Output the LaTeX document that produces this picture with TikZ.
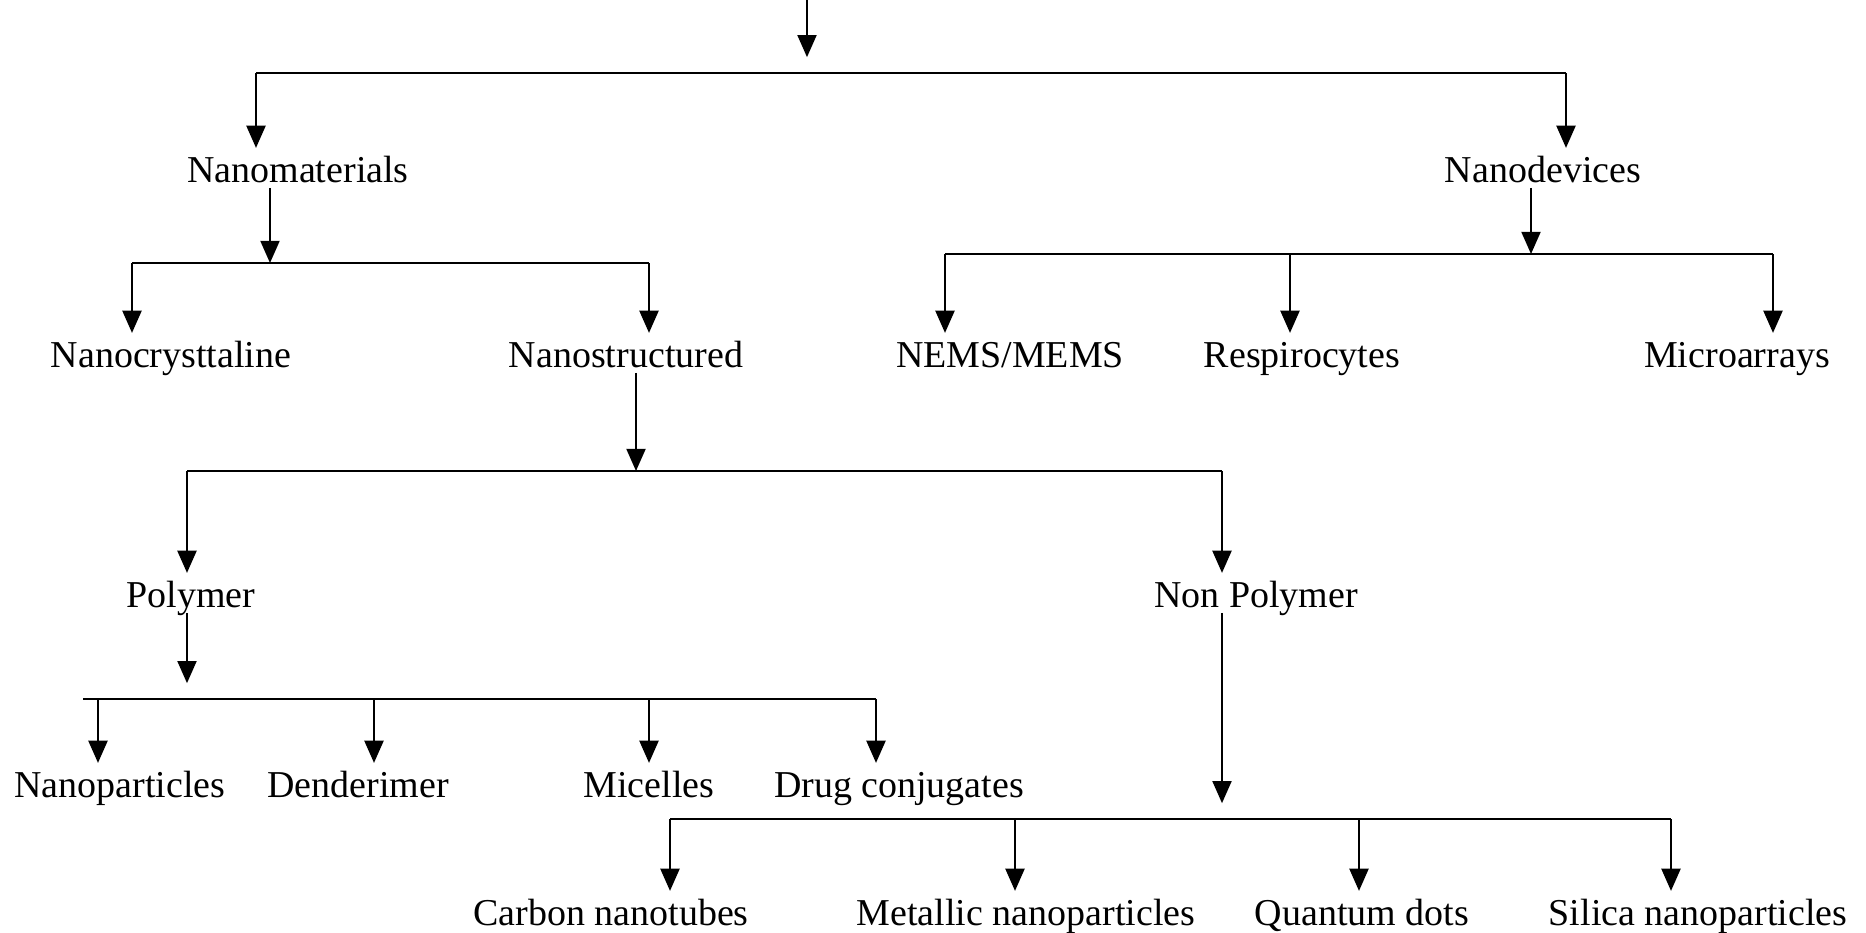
\documentclass[tikz,border=0pt]{standalone}
\usepackage{fontspec}
\setmainfont{Liberation Serif}
\usepackage{tikz}
\usetikzlibrary{arrows.meta,positioning,calc}

\tikzset{
	item/.style={anchor=base, inner xsep=0pt, inner ysep=1.5pt, text height=8pt, text depth=0pt, font=\fontsize{10.8}{13}\selectfont},
	arr/.style={line width=0.6pt, -{Triangle[length=6.3pt,width=5.4pt]}},
	bar/.style={line width=0.6pt},
	gap/.style={shorten >=4.5pt}
}

\begin{document}
\begin{tikzpicture}[x=0.01cm, y=-0.01cm]
		\useasboundingbox (0,0) rectangle (1866,933);

		% labels
		\node[item] (nanomat) at (298,182) {Nanomaterials};
		\node[item] (nanodev) at (1543,182) {Nanodevices};

		\node[item] (ncryst) at (171,367) {Nanocrysttaline};
		\node[item] (nstruct) at (626,367) {Nanostructured};
		\node[item] (nems) at (1010,367) {NEMS/MEMS};
		\node[item] (resp) at (1302,367) {Respirocytes};
		\node[item] (marray) at (1737,367) {Microarrays};

		\node[item] (poly) at (191,607) {Polymer};
		\node[item] (nonpoly) at (1256,607) {Non Polymer};

		\node[item] (nparticle) at (120,797) {Nanoparticles};
		\node[item] (dend) at (358,797) {Denderimer};
		\node[item] (micel) at (649,797) {Micelles};
		\node[item] (drugc) at (899,797) {Drug conjugates};

		\node[item] (cnt) at (611,925) {Carbon nanotubes};
		\node[item] (metal) at (1026,925) {Metallic nanoparticles};
		\node[item] (qdots) at (1362,925) {Quantum dots};
		\node[item] (silica) at (1698,925) {Silica nanoparticles};

		% points on the bars
		\coordinate (root) at (807,0);
		\coordinate (j0) at (807,73);
		\coordinate (c-nanomat) at (256,73);
		\coordinate (c-nanodev) at (1566,73);

		\coordinate (j1) at (270,263);
		\coordinate (c-ncryst) at (132,263);
		\coordinate (c-nstruct) at (649,263);

		\coordinate (j2) at (1531,254);
		\coordinate (c-nems) at (945,254);
		\coordinate (c-resp) at (1290,254);
		\coordinate (c-marray) at (1773,254);

		\coordinate (j3) at (636,471);
		\coordinate (c-poly) at (187,471);
		\coordinate (c-nonpoly) at (1222,471);

		\coordinate (j4) at (187,699);
		\coordinate (b4w) at (83,699);
		\coordinate (c-nparticle) at (98,699);
		\coordinate (c-dend) at (374,699);
		\coordinate (c-micel) at (649,699);
		\coordinate (c-drugc) at (876,699);

		\coordinate (j5) at (1222,819);
		\coordinate (c-cnt) at (670,819);
		\coordinate (c-metal) at (1015,819);
		\coordinate (c-qdots) at (1359,819);
		\coordinate (c-silica) at (1671,819);

		% parent arrows
		\draw[arr, gap] (root) -- (j0);
		\draw[arr] (nanomat.south -| j1) -- (j1);
		\draw[arr] (nanodev.south -| j2) -- (j2);
		\draw[arr] (nstruct.south -| j3) -- (j3);
		\draw[arr, gap] (poly.south -| j4) -- (j4);
		\draw[arr, gap] (nonpoly.south -| j5) -- (j5);

		% bars
		\draw[bar] (c-nanomat) -- (c-nanodev);
		\draw[bar] (c-ncryst) -- (c-nstruct);
		\draw[bar] (c-nems) -- (c-marray);
		\draw[bar] (c-poly) -- (c-nonpoly);
		\draw[bar] (b4w) -- (c-drugc);
		\draw[bar] (c-cnt) -- (c-silica);

		% child arrows
		\foreach \n in {nanomat,nanodev,ncryst,nstruct,nems,resp,marray,poly,nonpoly,nparticle,dend,micel,drugc,cnt,metal,qdots,silica}
			\draw[arr] (c-\n) -- (c-\n |- \n.north);
	\end{tikzpicture}
\end{document}
